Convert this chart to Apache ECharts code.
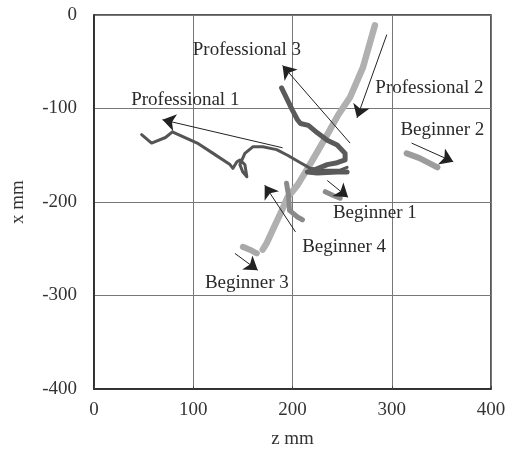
<!DOCTYPE html>
<html>
<head>
<meta charset="utf-8">
<script src="https://cdn.jsdelivr.net/npm/echarts@6/dist/echarts.min.js"></script>
<style>html,body{margin:0;padding:0;background:#fff}#c{width:512px;height:459px}</style>
</head>
<body>
<div id="c"></div>
<script>
// Trajectories: [z mm, x mm]
var professional1 = [[48,-128],[58,-137],[72,-131],[79,-125],[85,-128],[104,-137],[120,-148],[137,-160],[140,-164],[144,-157],[147,-155],[152,-160],[154,-173],[150,-168],[147,-160],[152,-148],[160,-141],[170,-141],[184,-144],[195,-150],[208,-158],[218,-164],[231,-166],[248,-166],[255,-163]];
var professional3 = [[189,-78],[195,-91],[200,-102],[205,-112],[208,-116],[216,-118],[225,-126],[235,-134],[245,-139],[253,-148],[253,-155],[245,-158],[235,-160],[221,-166],[215,-168],[225,-169],[245,-168],[255,-168]];
var professional2 = [[283,-11],[271,-56],[258,-88],[246,-107],[235,-128],[223,-150],[213,-168],[205,-182],[195,-195],[188,-212],[180,-230],[174,-244],[170,-251]];
var beginner1 = [[233,-189],[241,-193],[248,-196]];
var beginner2 = [[315,-148],[328,-153],[346,-163]];
var beginner3 = [[150,-248],[157,-251],[164,-255]];
var beginner4 = [[194,-180],[196,-193],[197,-209],[205,-216],[210,-219]];

// Direction arrows: [from, to]
var arrowNames = ['Professional 1','Professional 3','Professional 2','Beginner 2','Beginner 1','Beginner 4','Beginner 3'];
var arrowFrom = [[190,-142],[258,-137],[295,-21],[320,-137],[235,-177],[203,-232],[142,-255]];
var arrowTo   = [[69,-112],[190,-54],[265,-110],[362,-157],[256,-195],[172,-182],[165,-273]];

// Labels
var labelTexts = ['Professional 3','Professional 1','Professional 2','Beginner 2','Beginner 1','Beginner 4','Beginner 3'];
var labelPos = [[154,-37],[92,-91],[338,-78],[351,-123],[283,-212],[252,-248],[154,-287]];

// Axis ticks
var zTicks = [0,100,200,300,400];
var xTicks = [-400,-300,-200,-100,0];

var FONT = '"Liberation Serif", "Times New Roman", serif';
var FS = 19;
var chart = echarts.init(document.getElementById('c'), null, {renderer:'canvas'});

function traj(name, data, color, width){
  return {name:name, type:'line', data:data, symbol:'none', smooth:false,
    lineStyle:{color:color, width:width, cap:'round', join:'round'}, z:3, silent:true};
}

var series = [
  traj('Professional 2', professional2, '#b0b0b0', 6.5),
  traj('Beginner 3', beginner3, '#a8a8a8', 6),
  traj('Beginner 2', beginner2, '#9c9c9c', 6),
  traj('Beginner 4', beginner4, '#8a8a8a', 5),
  traj('Beginner 1', beginner1, '#8a8a8a', 5),
  traj('Professional 1', professional1, '#555555', 3),
  traj('Professional 3', professional3, '#5a5a5a', 5),
  {
    type:'lines', coordinateSystem:'cartesian2d', z:5, silent:true,
    symbol:['none','arrow'], symbolSize:[7,13],
    lineStyle:{color:'#222', width:1, opacity:1},
    data: arrowFrom.map(function(f,i){ return {name:arrowNames[i], coords:[f, arrowTo[i]]}; })
  },
  {
    type:'scatter', symbol:'circle', symbolSize:2, z:6, silent:true,
    itemStyle:{color:'rgba(255,255,255,0)'},
    data: labelPos.map(function(p,i){ return {value:p, name:labelTexts[i]}; }),
    label:{show:true, position:'inside', formatter:'{b}', opacity:1,
      color:'#2a2a2a', textBorderWidth:0, fontFamily:FONT, fontSize:FS}
  }
];

chart.setOption({
  backgroundColor:'#fff',
  animation:false,
  grid:{left:94, right:21, top:15, bottom:70, show:true, borderColor:'#222', borderWidth:1.5, backgroundColor:'transparent'},
  xAxis:{type:'value', min:zTicks[0], max:zTicks[zTicks.length-1], interval:100,
    name:'z mm', nameLocation:'middle', nameGap:41,
    nameTextStyle:{fontFamily:FONT, fontSize:FS, color:'#333'},
    axisLine:{show:true, onZero:false, lineStyle:{color:'#222', width:1.5}},
    axisTick:{show:true, length:3, inside:true, lineStyle:{color:'#444'}},
    axisLabel:{fontFamily:FONT, fontSize:FS, color:'#333', margin:12},
    splitLine:{show:true, lineStyle:{color:'#777', width:1}}},
  yAxis:{type:'value', min:xTicks[0], max:xTicks[xTicks.length-1], interval:100,
    name:'x mm', nameLocation:'middle', nameGap:66, nameRotate:90,
    nameTextStyle:{fontFamily:FONT, fontSize:FS, color:'#333'},
    axisLine:{show:true, onZero:false, lineStyle:{color:'#222', width:1.5}},
    axisTick:{show:false},
    axisLabel:{fontFamily:FONT, fontSize:FS, color:'#333', margin:17},
    splitLine:{show:true, lineStyle:{color:'#777', width:1}}},
  series:series
});
</script>
</body>
</html>
